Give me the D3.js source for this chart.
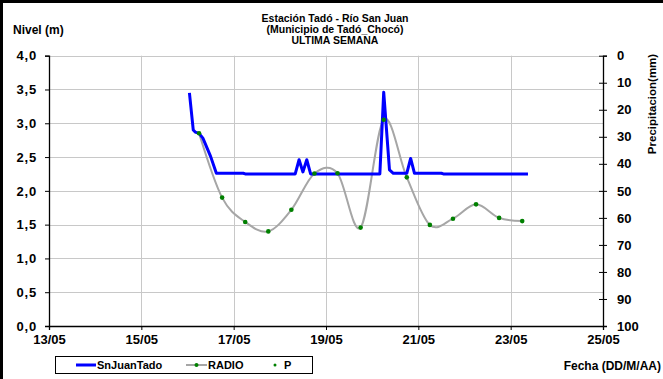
<!DOCTYPE html>
<html><head><meta charset="utf-8">
<script src="https://cdn.jsdelivr.net/npm/d3@7"></script>
<style>
body{margin:0;background:#fff;}
svg{display:block;font-family:"Liberation Sans",Arial,sans-serif;font-weight:bold;}
</style></head>
<body><svg id="c" width="663" height="379"></svg>
<script>
// ---- data ----
const xTickLabels = ["13/05","15/05","17/05","19/05","21/05","23/05","25/05"];
const levelTicks = [0,0.5,1,1.5,2,2.5,3,3.5,4];
const precipTicks = [0,10,20,30,40,50,60,70,80,90,100];

const snJuanTimes = ["16/05 01:00","16/05 03:00","16/05 04:00","16/05 06:00","16/05 08:00","16/05 12:00","16/05 15:00",
  "17/05 05:00","17/05 06:00","18/05 08:00","18/05 10:00","18/05 12:00","18/05 14:00","18/05 16:00",
  "20/05 04:00","20/05 06:00","20/05 09:00","20/05 11:00","20/05 18:00","20/05 20:00","20/05 22:00",
  "21/05 12:00","21/05 13:00","23/05 09:00"];
const snJuanLevels = [3.45,2.90,2.87,2.85,2.78,2.51,2.26,
  2.26,2.25,2.25,2.46,2.28,2.46,2.25,
  2.25,3.46,2.31,2.26,2.26,2.48,2.26,
  2.26,2.25,2.25];

const radioTimes = ["16/05 06:00","16/05 18:00","17/05 06:00","17/05 18:00","18/05 06:00","18/05 18:00",
  "19/05 06:00","19/05 18:00","20/05 06:00","20/05 18:00","21/05 06:00","21/05 18:00",
  "22/05 06:00","22/05 18:00","23/05 06:00"];
const radioPrecip = [28.7,52.5,61.5,65,57,43.6,43.5,63.6,23.7,45,62.6,60.3,55,60,61.2];

// ---- layout ----
const parse = d3.timeParse("%d/%m %H:%M");
const svg = d3.select("#c");
const L = 49, R = 603, T = 55.7, B = 326;

const x = d3.scaleTime().domain([parse("13/05 00:00"), parse("25/05 00:00")]).range([L, R]);
const yL = d3.scaleLinear().domain([0, 4]).range([B, T]);
const yR = d3.scaleLinear().domain([0, 100]).range([T, B]);

// outer frame
svg.append("rect").attr("x",1.5).attr("y",1.5).attr("width",700).attr("height",400)
  .attr("fill","none").attr("stroke","#000").attr("stroke-width",3);

const xTicks = xTickLabels.map(s => parse(s + " 00:00"));

// gridlines
const grid = svg.append("g").attr("stroke","#c8c8c8").attr("stroke-width",1);
levelTicks.forEach(v => {
  grid.append("line").attr("x1",L).attr("x2",R).attr("y1",Math.round(yL(v))+0.5).attr("y2",Math.round(yL(v))+0.5);
});
xTicks.forEach(d => {
  grid.append("line").attr("x1",Math.round(x(d))+0.5).attr("x2",Math.round(x(d))+0.5).attr("y1",T).attr("y2",B);
});

// axes
const fmt = d3.format(".1f");
const axL = d3.axisLeft(yL).tickValues(levelTicks).tickSize(4).tickPadding(8)
  .tickFormat(d => fmt(d).replace(".", ","));
const gL = svg.append("g").attr("transform",`translate(${L},0)`).call(axL);

const axR = d3.axisRight(yR).tickValues(precipTicks).tickSize(4).tickPadding(10);
const gR = svg.append("g").attr("transform",`translate(${R},0)`).call(axR);
gR.selectAll(".tick line").attr("x1",-4).attr("x2",4);

const axB = d3.axisBottom(x).tickValues(xTicks).tickSize(4).tickPadding(3)
  .tickFormat(d3.timeFormat("%d/%m"));
const gB = svg.append("g").attr("transform",`translate(0,${B})`).call(axB);

[gL,gR,gB].forEach(g => {
  g.select(".domain").attr("stroke","#000").attr("stroke-width",1.3);
  g.selectAll(".tick line").attr("stroke","#000");
  g.selectAll("text").attr("fill","#000").style("font-size","13px").style("font-weight","bold")
    .style("font-family","'Liberation Sans',Arial,sans-serif");
});
gL.selectAll("text").style("letter-spacing","0.8px");
gR.selectAll("text").attr("text-anchor","start");
gB.selectAll("text").attr("dy","0.85em");

// gray smoothed RADIO line
const radio = radioTimes.map((t,i) => ({t: parse(t), v: radioPrecip[i]}));
svg.append("path").datum(radio)
  .attr("fill","none").attr("stroke","#a6a6a6").attr("stroke-width",2)
  .attr("d", d3.line().x(d => x(d.t)).y(d => yR(d.v)).curve(d3.curveCardinal.tension(0)));

// blue SnJuanTado line
const sj = snJuanTimes.map((t,i) => ({t: parse(t), v: snJuanLevels[i]}));
svg.append("path").datum(sj)
  .attr("fill","none").attr("stroke","#0000ff").attr("stroke-width",3).attr("stroke-linejoin","round")
  .attr("d", d3.line().x(d => x(d.t)).y(d => yL(d.v)));

// green P markers
svg.append("g").selectAll("circle").data(radio).join("circle")
  .attr("cx", d => x(d.t)).attr("cy", d => yR(d.v)).attr("r",2.3).attr("fill","#008000");

// titles
const title = svg.append("text").attr("text-anchor","middle").style("font-size","10.5px");
["Estación Tadó - Río San Juan","(Municipio de Tadó_Chocó)","ULTIMA SEMANA"].forEach((s,i) => {
  title.append("tspan").attr("x",335).attr("y",21.5 + i*11).text(s);
});
svg.append("text").attr("x",13).attr("y",34).style("font-size","12px").text("Nivel (m)");
svg.append("text").attr("transform","translate(656,104) rotate(-90)").attr("text-anchor","middle")
  .style("font-size","11.5px").text("Precipitacion(mm)");
svg.append("text").attr("x",661).attr("y",370).attr("text-anchor","end").style("font-size","12px").text("Fecha (DD/M/AA)");

// legend
const lg = svg.append("g");
lg.append("rect").attr("x",55.5).attr("y",356.5).attr("width",257).attr("height",17)
  .attr("fill","#fff").attr("stroke","#000").attr("stroke-width",1);
const ly = 365;
lg.append("line").attr("x1",76).attr("x2",96).attr("y1",ly).attr("y2",ly).attr("stroke","#0000ff").attr("stroke-width",3);
lg.append("text").attr("x",97).attr("y",ly+4).style("font-size","11px").text("SnJuanTado");
lg.append("line").attr("x1",186).attr("x2",207).attr("y1",ly).attr("y2",ly).attr("stroke","#a6a6a6").attr("stroke-width",2);
lg.append("circle").attr("cx",196.5).attr("cy",ly).attr("r",2).attr("fill","#008000");
lg.append("text").attr("x",208).attr("y",ly+4).style("font-size","11px").text("RADIO");
lg.append("circle").attr("cx",275).attr("cy",ly).attr("r",1.5).attr("fill","#008000");
lg.append("text").attr("x",284).attr("y",ly+4).style("font-size","11px").text("P");
</script></body></html>
